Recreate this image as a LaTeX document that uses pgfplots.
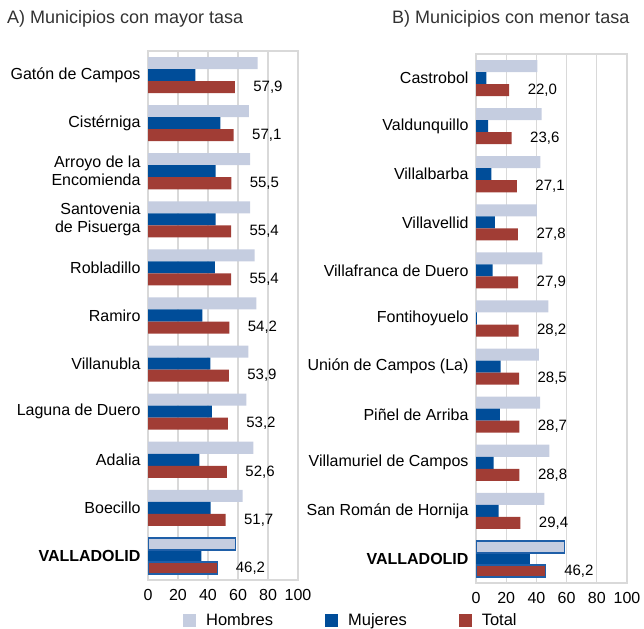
\documentclass[border=0pt]{standalone}
\usepackage{pgfplots}
\pgfplotsset{compat=1.18}
\usepackage{fontspec}
\setmainfont{Liberation Sans}

\definecolor{hom}{RGB}{197,205,224}
\definecolor{muj}{RGB}{0,77,153}
\definecolor{tot}{RGB}{161,61,53}
\definecolor{gridc}{RGB}{217,217,217}
\definecolor{vfr}{RGB}{31,95,168}
\definecolor{titlec}{RGB}{50,50,50}

\newcommand{\lblfont}{\fontsize{16}{18}\selectfont}
\newcommand{\valfont}{\fontsize{15}{17}\selectfont}

\pgfplotsset{
  panel/.style={
    scale only axis, width=150pt, height=529pt, anchor=north west,
    xmin=0, xmax=100, ymin=-0.5, ymax=10.5, y dir=reverse,
    xtick={0,20,...,100}, ytick={0,...,10},
    xmajorgrids, major grid style={gridc, line width=1.2pt},
    axis line style={gridc, line width=1.2pt},
    major tick length=0pt,
    tick label style={font=\lblfont, text=black},
    /pgf/number format/assume math mode=true,
    yticklabel style={align=right, xshift=-4pt},
    xticklabel style={yshift=-6pt},
  },
  sq legend/.style={legend image code/.code={\fill[##1] (0pt,-6.5pt) rectangle (13pt,6.5pt);}},
  hbar/.style={xbar, bar width=0.25, bar shift=-0.25, fill=hom, draw=none, sq legend},
  mbar/.style={xbar, bar width=0.25, bar shift=0, fill=muj, draw=none, sq legend},
  tbar/.style={xbar, bar width=0.25, bar shift=0.25, fill=tot, draw=none, sq legend,
    point meta=x,
    nodes near coords={\pgfmathprintnumber[fixed,fixed zerofill,precision=1,use comma]{\pgfplotspointmeta}},
    every node near coord/.append style={anchor=west, xshift=15pt, yshift=-12pt, font=\valfont, text=black}},
}

% columns: y index, Hombres, Mujeres, Total
\pgfplotstableread{
y  h     m     t
0  73.1  31.6  57.9
1  67.3  48.3  57.1
2  68.0  45.0  55.5
3  68.0  45.0  55.4
4  71.1  44.5  55.4
5  72.2  36.3  54.2
6  66.9  41.6  53.9
7  65.6  42.5  53.2
8  70.3  34.3  52.6
9  63.1  41.8  51.7
10 58.5  35.6  46.2
}\mayor

\pgfplotstableread{
y  h     m     t
0  40.7  6.8   22.0
1  43.4  8.1   23.6
2  42.7  10.1  27.1
3  40.3  12.5  27.8
4  44.0  11.0  27.9
5  48.0  0.6   28.2
6  41.6  16.3  28.5
7  42.5  15.8  28.7
8  48.6  11.7  28.8
9  45.3  15.0  29.4
10 58.5  35.6  46.2
}\menor

\begin{document}
\begin{tikzpicture}
\path[use as bounding box] (0,0) rectangle (644pt,628pt);

\node[anchor=west, inner sep=0pt, font=\fontsize{18}{20}\selectfont, text=titlec] at (7pt,609pt) {A) Municipios con mayor tasa};
\node[anchor=west, inner sep=0pt, font=\fontsize{18}{20}\selectfont, text=titlec] at (392pt,609pt) {B) Municipios con menor tasa};

\begin{axis}[panel, at={(148pt,577pt)},
  yticklabels={Gatón de Campos, Cistérniga, {Arroyo de la\\Encomienda}, {Santovenia\\de Pisuerga},
    Robladillo, Ramiro, Villanubla, Laguna de Duero, Adalia, Boecillo, \textbf{VALLADOLID}},
  legend style={at={(0.233,-0.0756)}, anchor=west, draw=none, fill=none, inner sep=0pt,
    legend columns=3, font=\fontsize{16.5}{18}\selectfont, text=black,
    /tikz/every odd column/.append style={column sep=8pt},
    /tikz/every even column/.append style={column sep=50pt}},
  legend cell align=left,
]
\addplot[hbar] table[x=h, y=y] {\mayor};
\addplot[mbar] table[x=m, y=y] {\mayor};
\addplot[tbar] table[x=t, y=y] {\mayor};
\legend{Hombres, Mujeres, Total}
\addplot[xbar, bar width=0.25, bar shift=-0.25, fill=hom, draw=vfr, line width=1.2pt, forget plot] coordinates {(58.5,10)};
\addplot[xbar, bar width=0.25, bar shift=0.25, fill=tot, draw=vfr, line width=1.2pt, forget plot] coordinates {(46.2,10)};
\end{axis}

\begin{axis}[panel, at={(476pt,574pt)}, width=151pt,
  yticklabels={Castrobol, Valdunquillo, Villalbarba, Villavellid, Villafranca de Duero, Fontihoyuelo,
    Unión de Campos (La), Piñel de Arriba, Villamuriel de Campos, San Román de Hornija, \textbf{VALLADOLID}},
]
\addplot[hbar] table[x=h, y=y] {\menor};
\addplot[mbar] table[x=m, y=y] {\menor};
\addplot[tbar] table[x=t, y=y] {\menor};
\addplot[xbar, bar width=0.25, bar shift=-0.25, fill=hom, draw=vfr, line width=1.2pt, forget plot] coordinates {(58.5,10)};
\addplot[xbar, bar width=0.25, bar shift=0.25, fill=tot, draw=vfr, line width=1.2pt, forget plot] coordinates {(46.2,10)};
\end{axis}
\end{tikzpicture}
\end{document}
